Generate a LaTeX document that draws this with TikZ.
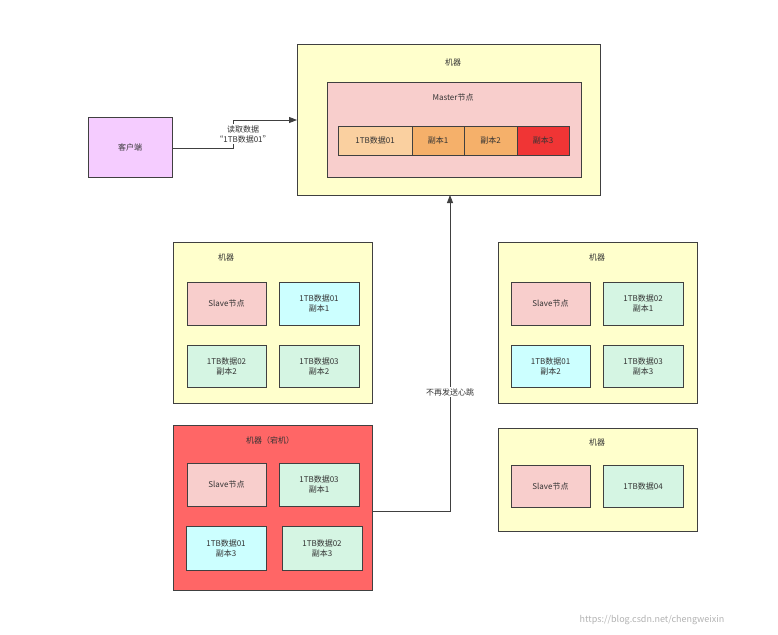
\documentclass[tikz,border=0pt]{standalone}
\usepackage{fontspec}
\setmainfont{Noto Sans CJK SC}
\usetikzlibrary{arrows.meta}
\definecolor{yel}{HTML}{FFFFCC}
\definecolor{pnk}{HTML}{F8CECC}
\definecolor{cli}{HTML}{F5CCFF}
\definecolor{org1}{HTML}{FAD0A0}
\definecolor{org2}{HTML}{F5B06A}
\definecolor{rd}{HTML}{F03535}
\definecolor{dead}{HTML}{FF6666}
\definecolor{cy}{HTML}{CCFFFF}
\definecolor{gr}{HTML}{D5F5E3}
\definecolor{txt}{HTML}{333333}
\begin{document}
\begin{tikzpicture}[x=1pt,y=-1pt,font=\fontsize{8}{10}\selectfont,text=txt,
  bx/.style={draw=black!75,line width=0.8pt},
  lbl/.style={align=center,inner sep=1pt},
  arr/.style={draw=black!75,line width=0.9pt,-{Triangle[length=8pt,width=6pt]}}]
\useasboundingbox (0,0) rectangle (778,634);
\newcommand{\bxx}[6]{\path[bx,fill=#6] (#2,#3) rectangle (#4,#5) node[lbl,midway] (#1) {};}
% client
\draw[bx,fill=cli] (88,117) rectangle (172,177);
\node[lbl] (cli) at (130,147) {客户端};
% master machine
\draw[bx,fill=yel] (297,44) rectangle (600,195);
\node[lbl] (mm) at (453,62) {机器};
\draw[bx,fill=pnk] (327,82) rectangle (581,177);
\node[lbl] (mn) at (453,97) {Master节点};
\draw[bx,fill=org1] (338,126) rectangle (412,155); \node[lbl] (c1) at (375,140.5) {1TB数据01};
\draw[bx,fill=org2] (412,126) rectangle (464,155); \node[lbl] (c2) at (438,140.5) {副本1};
\draw[bx,fill=org2] (464,126) rectangle (517,155); \node[lbl] (c3) at (490.5,140.5) {副本2};
\draw[bx,fill=rd] (517,126) rectangle (569,155); \node[lbl] (c4) at (543,140.5) {副本3};
\coordinate (mW) at (297,120);
\coordinate (mS) at (450,195);
% left machine 1
\draw[bx,fill=yel] (173,242) rectangle (372,403);
\node[lbl] (l1t) at (226,257) {机器};
\draw[bx,fill=pnk] (187,282) rectangle (266,325); \node[lbl] (l1a) at (226.5,303.5) {Slave节点};
\draw[bx,fill=cy] (279,282) rectangle (359,325); \node[lbl] (l1b) at (319,303.5) {1TB数据01\\副本1};
\draw[bx,fill=gr] (187,345) rectangle (266,387); \node[lbl] (l1c) at (226.5,366) {1TB数据02\\副本2};
\draw[bx,fill=gr] (279,345) rectangle (359,387); \node[lbl] (l1d) at (319,366) {1TB数据03\\副本2};
% dead machine
\draw[bx,fill=dead] (173,425) rectangle (372,590);
\node[lbl] (dt) at (270,440) {机器（宕机）};
\draw[bx,fill=pnk] (187,463) rectangle (266,506); \node[lbl] (da) at (226.5,484.5) {Slave节点};
\draw[bx,fill=gr] (279,463) rectangle (359,506); \node[lbl] (db) at (319,484.5) {1TB数据03\\副本1};
\draw[bx,fill=cy] (186,526) rectangle (266,570); \node[lbl] (dc) at (226,548) {1TB数据01\\副本3};
\draw[bx,fill=gr] (282,526) rectangle (362,570); \node[lbl] (dd) at (322,548) {1TB数据02\\副本3};
\coordinate (dE) at (372,511);
% right machine 1
\draw[bx,fill=yel] (498,242) rectangle (697,403);
\node[lbl] (r1t) at (597,257) {机器};
\draw[bx,fill=pnk] (511,282) rectangle (590,325); \node[lbl] (r1a) at (550.5,303.5) {Slave节点};
\draw[bx,fill=gr] (603,282) rectangle (683,325); \node[lbl] (r1b) at (643,303.5) {1TB数据02\\副本1};
\draw[bx,fill=cy] (511,345) rectangle (590,387); \node[lbl] (r1c) at (550.5,366) {1TB数据01\\副本2};
\draw[bx,fill=gr] (603,345) rectangle (683,387); \node[lbl] (r1d) at (643,366) {1TB数据03\\副本3};
% right machine 2
\draw[bx,fill=yel] (498,428) rectangle (697,531);
\node[lbl] (r2t) at (597,442) {机器};
\draw[bx,fill=pnk] (511,465) rectangle (590,507); \node[lbl] (r2a) at (550.5,486) {Slave节点};
\draw[bx,fill=gr] (603,465) rectangle (683,507); \node[lbl] (r2b) at (643,486) {1TB数据04};
% connectors
\coordinate (cE) at (172,148);
\draw[arr] (cE) -- (233,148) -- (233,120) -- (mW);
\node[lbl,fill=white] (rl) at (243,134) {读取数据\\“1TB数据01”};
\draw[arr] (dE) -- (450,511) -- (mS);
\node[lbl,fill=white] (hb) at (450,392) {不再发送心跳};
\node[text=black!30,font=\fontsize{9}{10}\selectfont] (wm) at (652,620) {https://blog.csdn.net/chengweixin};
\end{tikzpicture}
\end{document}
